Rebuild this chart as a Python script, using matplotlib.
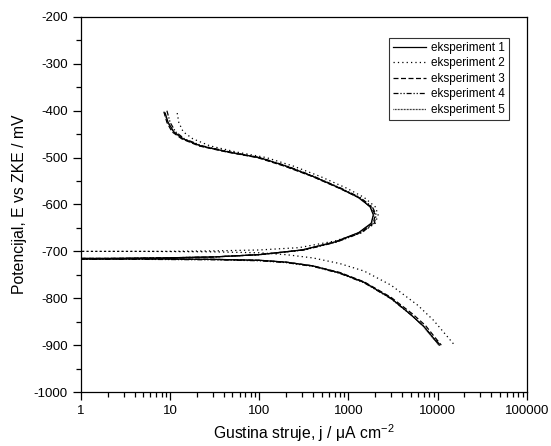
import matplotlib
matplotlib.use('Agg')
import matplotlib.pyplot as plt
from matplotlib.ticker import MultipleLocator, LogLocator, NullFormatter

plt.rcParams['font.family'] = ['Liberation Sans', 'DejaVu Sans']
plt.rcParams['mathtext.fontset'] = 'custom'
plt.rcParams['mathtext.rm'] = 'Liberation Sans'
plt.rcParams['mathtext.it'] = 'Liberation Sans:italic'
plt.rcParams['axes.unicode_minus'] = False

# eksperiment 1 (puna linija)
j1 = [8.8, 9.5, 11, 14, 22, 45, 100, 200, 400, 800, 1300, 1750, 1900, 1800, 1300, 700, 300, 100, 30, 8, 2, 1,
      1, 5, 30, 100, 200, 400, 800, 1500, 3000, 5000, 7000, 9000, 10500]
E1 = [-405, -425, -445, -460, -475, -488, -500, -518, -540, -565, -585, -605, -622, -640, -660, -680, -697, -707, -712, -714, -715, -715,
      -716, -716, -717, -719, -723, -731, -746, -766, -800, -835, -860, -885, -900]

# eksperiment 2 (tockasta)
j2 = [12, 12.5, 14, 18, 28, 55, 120, 240, 480, 950, 1500, 2000, 2150, 2000, 1400, 700, 280, 100, 30, 8, 2, 1,
      1, 5, 30, 100, 200, 400, 800, 1500, 3000, 6000, 9000, 12000, 15500]
E2 = [-405, -425, -445, -460, -475, -488, -500, -518, -540, -565, -585, -605, -622, -640, -660, -678, -692, -697, -699, -700, -700, -700,
      -700, -700, -701, -703, -707, -714, -726, -742, -772, -815, -847, -875, -900]

# eksperiment 3 (isprekidana)
j3 = [8.5, 9.2, 10.5, 13.5, 21, 43, 95, 190, 390, 780, 1300, 1800, 2000, 1900, 1350, 720, 310, 100, 30, 8, 2, 1,
      1, 5, 30, 100, 200, 400, 800, 1500, 3000, 5200, 7300, 9300, 11000]
E3 = [-402, -425, -445, -460, -475, -488, -500, -518, -540, -565, -585, -605, -622, -640, -660, -680, -697, -707, -712, -714, -715, -715,
      -716, -716, -717, -719, -723, -731, -745, -765, -798, -833, -858, -883, -900]

# eksperiment 4 (crta-tocka)
j4 = [9.2, 10, 11.5, 14.5, 23, 47, 102, 205, 410, 820, 1350, 1850, 2050, 1950, 1400, 740, 320, 100, 30, 8, 2, 1,
      1, 5, 30, 100, 200, 400, 800, 1500, 3000, 5100, 7100, 9100, 10800]
E4 = [-400, -425, -445, -460, -475, -488, -500, -518, -540, -565, -585, -605, -622, -640, -660, -680, -697, -707, -712, -714, -716, -716,
      -717, -717, -718, -720, -724, -732, -747, -767, -801, -836, -861, -886, -900]

# eksperiment 5 (gusto tockasta)
j5 = [8.6, 9.4, 10.8, 13.8, 21.5, 44, 98, 195, 395, 790, 1280, 1760, 1920, 1820, 1320, 710, 305, 100, 30, 8, 2, 1,
      1, 5, 30, 100, 200, 400, 800, 1500, 3000, 5000, 6900, 8900, 10300]
E5 = [-404, -425, -445, -460, -475, -488, -500, -518, -540, -565, -585, -605, -622, -640, -660, -680, -697, -707, -712, -714, -715, -715,
      -716, -716, -717, -719, -723, -731, -746, -766, -800, -835, -860, -885, -900]

labels = ['eksperiment 1', 'eksperiment 2', 'eksperiment 3', 'eksperiment 4', 'eksperiment 5']
styles = ['-', (0, (1, 2.5)), (0, (4, 2)), (0, (4, 1.5, 1, 1.5, 1, 1.5)), (0, (0.6, 0.6))]

fig = plt.figure(figsize=(5.51, 4.46), dpi=100)
ax = fig.add_axes([0.147, 0.121, 0.809, 0.841])

serije = [(j1, E1), (j2, E2), (j3, E3), (j4, E4), (j5, E5)]
for (j, E), lab, ls in zip(serije, labels, styles):
    ax.plot(j, E, color='black', linestyle=ls, linewidth=0.9, label=lab)

ax.set_xscale('log')
ax.set_xlim(1, 100000)
ax.set_ylim(-1000, -200)
ax.set_xticks([1, 10, 100, 1000, 10000, 100000])
ax.set_xticklabels(['1', '10', '100', '1000', '10000', '100000'])
ax.xaxis.set_minor_locator(LogLocator(base=10, subs=range(2, 10)))
ax.xaxis.set_minor_formatter(NullFormatter())
ax.yaxis.set_major_locator(MultipleLocator(100))
ax.yaxis.set_minor_locator(MultipleLocator(50))
ax.tick_params(which='both', direction='out', top=False, right=False, labelsize=9.5, width=0.9)
ax.tick_params(which='major', length=6)
ax.tick_params(which='minor', length=3.5)
for s in ax.spines.values():
    s.set_linewidth(0.9)

ax.set_xlabel('Gustina struje, j / \u03bcA cm$^{-2}$', fontsize=11.3, labelpad=4)
ax.set_ylabel('Potencijal, E vs ZKE / mV', fontsize=11.3, labelpad=5)

leg = ax.legend(loc='upper right', bbox_to_anchor=(0.96, 0.945), borderaxespad=0, fontsize=8.5,
                frameon=True, fancybox=False, edgecolor='black', handlelength=2.8, borderpad=0.35,
                labelspacing=0.3, handletextpad=0.4)
leg.get_frame().set_linewidth(0.8)

fig.savefig('out.png', dpi=100)
